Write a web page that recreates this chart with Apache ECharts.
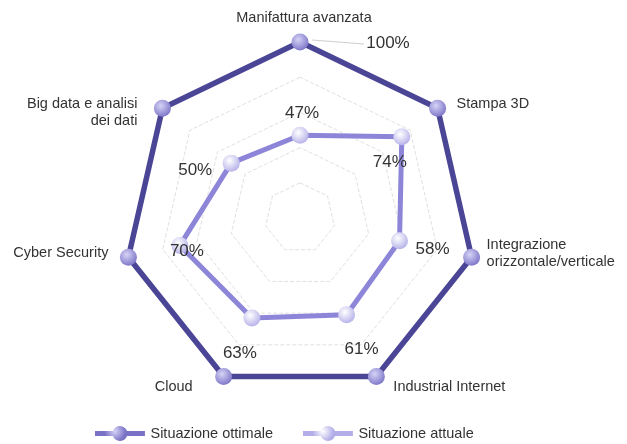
<!DOCTYPE html>
<html>
<head>
<meta charset="utf-8">
<script src="https://cdn.jsdelivr.net/npm/echarts@6/dist/echarts.min.js"></script>
<style>
html, body { margin: 0; padding: 0; background: #fff; }
#chart { width: 627px; height: 444px; }
</style>
</head>
<body>
<div id="chart"></div>
<script>
// ordine in senso orario partendo dall'alto, come nel grafico
var axisNames = ['Manifattura avanzata', 'Stampa 3D', 'Integrazione\norizzontale/verticale',
	'Industrial Internet', 'Cloud', 'Cyber Security', 'Big data e analisi\ndei dati'];
var ottimale = [100, 100, 100, 100, 100, 100, 100];
var attuale = [47, 74, 58, 61, 63, 70, 50];
var seriesNames = ['Situazione ottimale', 'Situazione attuale'];

// spostamento delle etichette percentuali rispetto al punto
var offsetAttuale = [[2, -22], [-12, 26], [33, 9], [15, 35], [-12, 35], [7, 6], [-36, 7]];
var offsetOttimale = [88, 1];
// posizione dei nomi rispetto al vertice esterno: dx, dy, allineamento
var offsetNomi = [[4, -24, 'center'], [19, -4, 'left'], [15, -4, 'left'], [17, 10, 'left'],
	[-31, 10, 'right'], [-20, -4, 'right'], [-25, 4, 'right']];

var cx = 300, cy = 218, raggio = 176;

// echarts disegna il radar in senso antiorario: si inverte l'ordine
var order = [0, 6, 5, 4, 3, 2, 1];
function reorder(arr) {
	return order.map(function (i) { return arr[i]; });
}

function sphere(light, dark) {
	return {
		type: 'radial', x: 0.4, y: 0.35, r: 0.7,
		colorStops: [{ offset: 0, color: light }, { offset: 1, color: dark }]
	};
}

// nomi degli assi come testi, posizionati sul vertice calcolato
var nomi = axisNames.map(function (n, k) {
	var a = (90 - k * 360 / axisNames.length) * Math.PI / 180;
	var o = offsetNomi[k];
	return {
		type: 'text',
		x: cx + raggio * Math.cos(a) + o[0],
		y: cy - raggio * Math.sin(a) + o[1],
		style: {
			text: n,
			fill: '#333',
			fontSize: 14.5,
			fontFamily: 'Liberation Sans, Arial, sans-serif',
			lineHeight: 17,
			align: o[2],
			verticalAlign: 'middle'
		}
	};
});

var legendIcon = 'path://M0,4H14.34A6,6 0 0 1 25.66,4H40V8H25.66A6,6 0 0 1 14.34,8H0Z';

var myChart = echarts.init(document.getElementById('chart'));
var option = {
	backgroundColor: '#fff',
	textStyle: { fontFamily: 'Liberation Sans, Arial, sans-serif' },
	legend: {
		top: 421,
		left: 90,
		itemWidth: 55,
		itemHeight: 15,
		itemGap: 30,
		icon: legendIcon,
		textStyle: { color: '#333', fontSize: 14.5, padding: [0, 0, 0, -2] },
		data: seriesNames
	},
	radar: {
		center: [cx, cy],
		radius: raggio,
		shape: 'polygon',
		splitNumber: 5,
		axisName: { show: false },
		axisLine: { show: false },
		splitArea: { show: false },
		splitLine: { lineStyle: { color: '#e0e0e0', width: 1, type: [4, 2] } },
		indicator: reorder(axisNames).map(function (n) { return { name: n, max: 100 }; })
	},
	graphic: nomi.concat([{
		type: 'line',
		shape: { x1: 312, y1: 40, x2: 364, y2: 44 },
		style: { stroke: '#cfcfcf', lineWidth: 1 }
	}]),
	series: [{
		type: 'radar',
		name: seriesNames[0],
		z: 3,
		symbol: 'circle',
		symbolSize: 17,
		lineStyle: { color: '#4b4596', width: 5.5 },
		itemStyle: { color: sphere('#d6d3f6', '#7a72c6'), borderWidth: 0 },
		label: {
			show: true,
			fontSize: 17,
			color: '#333',
			position: 'inside',
			formatter: function (p) {
				return p.dimensionIndex === 0 ? p.value + '%' : '';
			}
		},
		labelLayout: function () {
			return { dx: offsetOttimale[0], dy: offsetOttimale[1] };
		},
		data: [{ value: reorder(ottimale), name: seriesNames[0] }]
	}, {
		type: 'radar',
		name: seriesNames[1],
		z: 4,
		symbol: 'circle',
		symbolSize: 17,
		lineStyle: { color: '#8d86d8', width: 5 },
		itemStyle: { color: sphere('#ffffff', '#b3aee8'), borderWidth: 0 },
		label: {
			show: true,
			fontSize: 17,
			color: '#333',
			position: 'inside',
			formatter: function (p) { return p.value + '%'; }
		},
		labelLayout: function (p) {
			var i = attuale.indexOf(parseInt(p.text, 10));
			var o = offsetAttuale[i] || [0, 0];
			return { dx: o[0], dy: o[1] };
		},
		data: [{ value: reorder(attuale), name: seriesNames[1] }]
	}],
	color: ['#4b4596', '#9a94dc'],
	animation: false
};
myChart.setOption(option);
</script>
</body>
</html>
